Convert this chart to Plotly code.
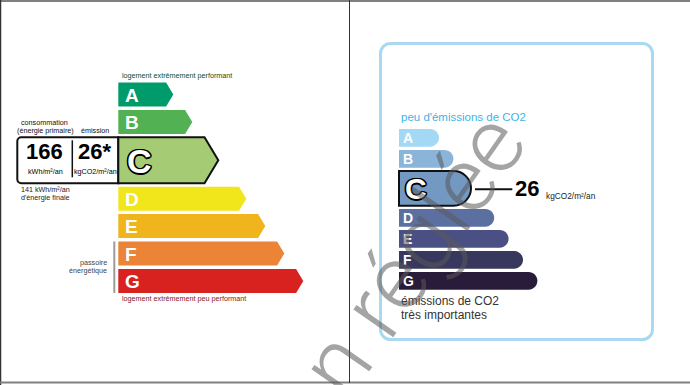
import plotly.graph_objects as go

# ---------------- data ----------------
classes = ["A", "B", "C", "D", "E", "F", "G"]
energy_class = "C"
ges_class = "C"
energy_primary = 166          # kWh/m²/an (énergie primaire)
energy_final = 141            # kWh/m²/an (énergie finale)
ges_value = 26                # kgCO2/m²/an
energy_colors = ["#009b6a", "#52b153", "#a5cc74", "#f1e51c", "#f0b41c", "#eb8436", "#d7221f"]
ges_colors = ["#a4d9f5", "#8ab4d8", "#7398c2", "#5b6fa1", "#4a5083", "#38375e", "#281c3a"]

FONT = "Liberation Sans, Arial, Helvetica, sans-serif"
W, H = 690, 385

# ---------------- geometry / style ----------------
L_X0, L_TOP, L_H, L_GAP, L_SEL_H = 118.3, 82.5, 24.0, 3.4, 46.0
L_TIP_A, L_STEP, L_SEL_EXTRA, L_AFTER_EXTRA = 173.3, 19.0, 7.0, 16.0
R_X0, R_TOP, R_H, R_GAP, R_SEL_H = 399.0, 129.0, 17.7, 3.3, 34.7
R_END_A, R_STEP, R_SEL_EXTRA, R_AFTER_EXTRA = 439.0, 14.4, 3.2, 12.0

shapes = []
annotations = []


def txt(x, y, s, size, color="#222", anchor="left", bold=False, **kw):
    font = dict(family=FONT, size=size, color=color)
    if bold:
        font["weight"] = "bold"
    if "shadow" in kw:
        font["shadow"] = kw.pop("shadow")
    annotations.append(dict(x=x, y=y, xref="x", yref="y", text=s, showarrow=False,
                            xanchor=anchor, yanchor="middle", font=font,
                            borderpad=0, borderwidth=0, **kw))


def arrow_path(x0, y0, y1, xt, ext):
    ym = (y0 + y1) / 2
    return f"M{x0},{y0} L{xt - ext},{y0} L{xt},{ym} L{xt - ext},{y1} L{x0},{y1} Z"


def round_bar_path(x0, y0, y1, xe):
    r = (y1 - y0) / 2
    xc = xe - r
    ym = y0 + r
    k = 0.5523 * r
    return (f"M{x0},{y0} L{xc},{y0} C{xc + k},{y0} {xe},{ym - k} {xe},{ym} "
            f"C{xe},{ym + k} {xc + k},{y1} {xc},{y1} L{x0},{y1} Z")


def round_rect_path(x0, y0, x1, y1, r, left_only=False):
    k = 0.5523 * r
    if left_only:
        return (f"M{x0 + r},{y0} L{x1},{y0} L{x1},{y1} L{x0 + r},{y1} "
                f"C{x0 + r - k},{y1} {x0},{y1 - r + k} {x0},{y1 - r} L{x0},{y0 + r} "
                f"C{x0},{y0 + r - k} {x0 + r - k},{y0} {x0 + r},{y0} Z")
    return (f"M{x0 + r},{y0} L{x1 - r},{y0} C{x1 - r + k},{y0} {x1},{y0 + r - k} {x1},{y0 + r} "
            f"L{x1},{y1 - r} C{x1},{y1 - r + k} {x1 - r + k},{y1} {x1 - r},{y1} "
            f"L{x0 + r},{y1} C{x0 + r - k},{y1} {x0},{y1 - r + k} {x0},{y1 - r} "
            f"L{x0},{y0 + r} C{x0},{y0 + r - k} {x0 + r - k},{y0} {x0 + r},{y0} Z")


OUTLINE = ("1.5px 0 0 #000, -1.5px 0 0 #000, 0 1.5px 0 #000, 0 -1.5px 0 #000, "
           "1.2px 1.2px 0 #000, -1.2px -1.2px 0 #000, 1.2px -1.2px 0 #000, -1.2px 1.2px 0 #000")

# ---------------- frame ----------------
shapes.append(dict(type="line", xref="x", yref="y", x0=0, x1=W, y0=1, y1=1, line=dict(color="#7f7f7f", width=2)))
shapes.append(dict(type="line", xref="x", yref="y", x0=0.5, x1=0.5, y0=0, y1=H, line=dict(color="#333", width=1.5)))
shapes.append(dict(type="line", xref="x", yref="y", x0=0, x1=W, y0=382.5, y1=382.5, line=dict(color="#808080", width=2)))
shapes.append(dict(type="line", xref="x", yref="y", x0=349.5, x1=349.5, y0=0, y1=383, line=dict(color="#333", width=1)))

# ---------------- left : energy label ----------------
sel_e = classes.index(energy_class)
y = L_TOP
for i, (c, col) in enumerate(zip(classes, energy_colors)):
    sel = i == sel_e
    h = L_SEL_H if sel else L_H
    tip = L_TIP_A + L_STEP * i + (L_SEL_EXTRA if sel else 0) + (L_AFTER_EXTRA if i > sel_e else 0)
    ext = 0.3 * h
    if sel:
        # value box attached to the selected arrow
        shapes.append(dict(type="path", xref="x", yref="y",
                           path=round_rect_path(17.3, y, L_X0, y + h, 4, left_only=True),
                           fillcolor="white", line=dict(color="#111", width=2)))
        shapes.append(dict(type="line", xref="x", yref="y", x0=72.3, x1=72.3, y0=y + 3, y1=y + h - 6,
                           line=dict(color="#111", width=1.5)))
        shapes.append(dict(type="path", xref="x", yref="y", path=arrow_path(L_X0, y, y + h, tip, ext),
                           fillcolor=col, line=dict(color="#111", width=2)))
        txt(L_X0 + 21.5, y + h / 2 + 0.5, c, 34, color="white", anchor="center", bold=True, shadow=OUTLINE)
        txt(44.7, y + 14, str(energy_primary), 22, color="#000", anchor="center", bold=True)
        txt(94.3, y + 14, f"{ges_value}*", 22, color="#000", anchor="center", bold=True)
        txt(45, y + 34.4, "kWh/m²/an", 7.2, color="#000", anchor="center")
        txt(95.3, y + 34.4, "kgCO2/m²/an", 7.2, color="#000", anchor="center")
        txt(21, y + h + 5.8, f"{energy_final} kWh/m²/an", 7.2, color="#222")
        txt(21, y + h + 14, "d'énergie finale", 7.2, color="#222")
        txt(44, y - 15, "consommation", 7.2, color="#111", anchor="center")
        txt(45.3, y - 7.3, "(énergie primaire)", 7.2, color="#111", anchor="center")
        txt(94.7, y - 7.3, "émission", 7.2, color="#111", anchor="center")
    else:
        shapes.append(dict(type="path", xref="x", yref="y", path=arrow_path(L_X0, y, y + h, tip, ext),
                           fillcolor=col, line=dict(width=0)))
        txt(L_X0 + 6.2, y + h / 2 + 0.5, c, 19, color="white", bold=True)
    if i == 0:
        txt(121.7, y - 6.8, "logement extrêmement performant", 7.2, color="#0a4f26")
    if i == len(classes) - 1:
        txt(121.7, y + h + 5.4, "logement extrêmement peu performant", 7.2, color="#84151a")
    if i == len(classes) - 2:
        shapes.append(dict(type="line", xref="x", yref="y", x0=114.3, x1=114.3, y0=y, y1=y + 2 * h + L_GAP,
                           line=dict(color="#9a9a9a", width=2)))
        txt(107, y + 21, "passoire", 7.2, color="#444", anchor="right")
        txt(107, y + 29.3, "énergétique", 7.2, color="#444", anchor="right")
    y += h + L_GAP

# ---------------- right : GES label ----------------
shapes.append(dict(type="path", xref="x", yref="y", path=round_rect_path(380.5, 43.5, 652.5, 339.5, 10),
                   fillcolor="rgba(0,0,0,0)", line=dict(color="#a9d8f1", width=3)))
txt(401.2, R_TOP - 11.7, "peu d'émissions de CO2", 11.5, color="#3db4e5")

sel_g = classes.index(ges_class)
y = R_TOP
for i, (c, col) in enumerate(zip(classes, ges_colors)):
    sel = i == sel_g
    h = R_SEL_H if sel else R_H
    end = R_END_A + R_STEP * i + (R_SEL_EXTRA if sel else 0) + (R_AFTER_EXTRA if i > sel_g else 0)
    if sel:
        shapes.append(dict(type="path", xref="x", yref="y", path=round_bar_path(R_X0, y, y + h, end),
                           fillcolor=col, line=dict(color="#111", width=2)))
        shapes.append(dict(type="line", xref="x", yref="y", x0=end + 4, x1=512.3, y0=y + h / 2 + 1,
                           y1=y + h / 2 + 1, line=dict(color="#111", width=2)))
        txt(R_X0 + 16.5, y + h / 2 + 0.5, c, 30, color="white", anchor="center", bold=True, shadow=OUTLINE)
        txt(515.2, y + h / 2, str(ges_value), 22, color="#000", bold=True)
        txt(545.8, y + h / 2 + 7.5, "kgCO2/m²/an", 8.3, color="#222")
    else:
        shapes.append(dict(type="path", xref="x", yref="y", path=round_bar_path(R_X0, y, y + h, end),
                           fillcolor=col, line=dict(width=0)))
        txt(R_X0 + 3.5, y + h / 2 + 0.5, c, 14, color="white", bold=True)
    y += h + R_GAP

txt(401.2, 301, "émissions de CO2", 12, color="#333")
txt(401.2, 314.5, "très importantes", 12, color="#333")

# ---------------- watermark ----------------
annotations.append(dict(x=383, y=296, xref="x", yref="y", text="non réglée", showarrow=False,
                        xanchor="center", yanchor="middle", textangle=-55,
                        font=dict(family="Roboto, Lato, Liberation Sans, sans-serif", size=92,
                                  weight=300, color="rgba(90,90,90,0.55)")))

fig = go.Figure()
fig.update_layout(
    width=W, height=H, margin=dict(l=0, r=0, t=0, b=0),
    paper_bgcolor="white", plot_bgcolor="white",
    xaxis=dict(range=[0, W], visible=False, fixedrange=True),
    yaxis=dict(range=[H, 0], visible=False, fixedrange=True),
    shapes=shapes, annotations=annotations, showlegend=False,
)
fig.write_html("out.html")
